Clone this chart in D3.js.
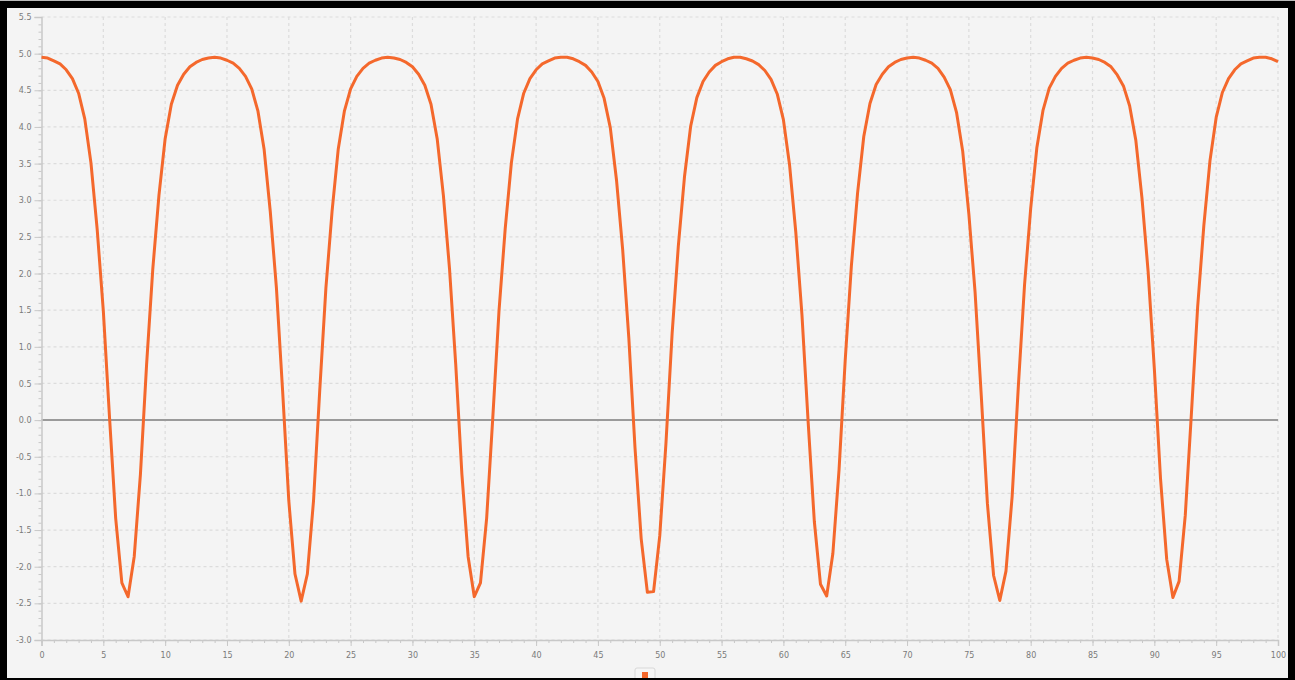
<!DOCTYPE html>
<html>
<head>
<meta charset="utf-8">
<script src="https://cdn.jsdelivr.net/npm/d3@7"></script>
<style>
  html, body { margin: 0; padding: 0; background: #000; }
  .tick text { font-family: "DejaVu Sans", sans-serif; font-size: 8px; fill: #7a7a7a; }
</style>
</head>
<body>
<div id="chart"></div>
<script>
// sample spacing along x (the series is read every half unit)
var xStep = 0.5;

// values, x = 0 .. 100
var seriesValues = [
  4.95, 4.94, 4.90, 4.86, 4.78, 4.66, 4.46, 4.11, 3.51, 2.61,
  1.49, 0.04, -1.34, -2.22, -2.41, -1.86, -0.74, 0.76, 2.06, 3.07,
  3.84, 4.31, 4.57, 4.72, 4.82, 4.88, 4.92, 4.94,
  4.95, 4.94, 4.91, 4.87, 4.80, 4.69, 4.52, 4.22, 3.70, 2.85,
  1.80, 0.40, -1.10, -2.10, -2.47, -2.10, -1.10, 0.40, 1.80, 2.85,
  3.70, 4.22, 4.52, 4.69, 4.80, 4.87, 4.91, 4.94, 4.95,
  4.94, 4.92, 4.88, 4.82, 4.72, 4.57, 4.31, 3.84, 3.07, 2.06,
  0.76, -0.74, -1.86, -2.41, -2.22, -1.34, 0.04, 1.49, 2.61, 3.51,
  4.11, 4.46, 4.66, 4.78, 4.86, 4.90, 4.94, 4.95,
  4.95, 4.93, 4.89, 4.84, 4.75, 4.62, 4.39, 3.99, 3.28, 2.33,
  1.12, -0.38, -1.62, -2.35, -2.34, -1.58, -0.32, 1.18, 2.37, 3.32,
  4.01, 4.40, 4.62, 4.75, 4.84, 4.89, 4.93, 4.95,
  4.95, 4.93, 4.90, 4.85, 4.77, 4.65, 4.45, 4.10, 3.48, 2.57,
  1.44, -0.02, -1.38, -2.24, -2.40, -1.82, -0.68, 0.82, 2.11, 3.10,
  3.87, 4.32, 4.58, 4.72, 4.82, 4.88, 4.92, 4.94,
  4.95, 4.94, 4.91, 4.87, 4.80, 4.68, 4.51, 4.20, 3.67, 2.81,
  1.75, 0.34, -1.14, -2.12, -2.46, -2.06, -1.04, 0.46, 1.84, 2.89,
  3.72, 4.23, 4.53, 4.69, 4.80, 4.87, 4.91, 4.94, 4.95,
  4.94, 4.92, 4.88, 4.82, 4.71, 4.56, 4.29, 3.82, 3.03, 2.02,
  0.70, -0.80, -1.90, -2.42, -2.20, -1.30, 0.10, 1.54, 2.65, 3.54,
  4.13, 4.47, 4.66, 4.78, 4.86, 4.90, 4.94, 4.95, 4.95, 4.93, 4.89
];

var xTicks = d3.range(0, 101, 5);
var xMinorTicks = d3.range(0, 101, 1);
var yTicks = [-3.0, -2.5, -2.0, -1.5, -1.0, -0.5, 0.0, 0.5, 1.0, 1.5, 2.0, 2.5, 3.0, 3.5, 4.0, 4.5, 5.0, 5.5];
var yMinorTicks = d3.range(-30, 56, 1).map(function (d) { return d / 10; });

var width = 1295, height = 680;

var svg = d3.select("#chart")
  .append("svg")
  .attr("width", width)
  .attr("height", height)
  .style("display", "block");

// black frame + light panel
svg.append("rect").attr("width", width).attr("height", height).attr("fill", "#000");
svg.append("rect").attr("x", 0).attr("y", 0).attr("width", width).attr("height", 1).attr("fill", "#bbb");
svg.append("rect")
  .attr("x", 7).attr("y", 8)
  .attr("width", 1281).attr("height", 670)
  .attr("fill", "#f4f4f4");

var x = d3.scaleLinear().domain([0, 100]).range([41.5, 1278]);
var y = d3.scaleLinear().domain([-3, 5.5]).range([640, 17]);

// grid lines
var grid = svg.append("g").attr("class", "grid");
grid.selectAll("line.h")
  .data(yTicks)
  .enter().append("line")
  .attr("class", "h")
  .attr("x1", x(0)).attr("x2", x(100))
  .attr("y1", function (d) { return y(d); })
  .attr("y2", function (d) { return y(d); })
  .attr("stroke", "#dcdcdc")
  .attr("stroke-width", 1.2)
  .attr("stroke-dasharray", "3,3");
grid.selectAll("line.v")
  .data(xTicks.slice(1))
  .enter().append("line")
  .attr("class", "v")
  .attr("x1", function (d) { return x(d); })
  .attr("x2", function (d) { return x(d); })
  .attr("y1", y(5.5)).attr("y2", y(-3))
  .attr("stroke", "#dcdcdc")
  .attr("stroke-width", 1.2)
  .attr("stroke-dasharray", "3,3");

// zero line
svg.append("line")
  .attr("x1", x(0)).attr("x2", x(100))
  .attr("y1", y(0)).attr("y2", y(0))
  .attr("stroke", "#9a9a9a")
  .attr("stroke-width", 2);

// axes
var fmtY = function (d) { return d3.format(".1f")(d).replace("−", "-"); };

var yMinor = svg.append("g")
  .attr("transform", "translate(" + x(0) + ",0)")
  .call(d3.axisLeft(y).tickValues(yMinorTicks).tickSize(3).tickFormat(""));
yMinor.select(".domain").remove();
yMinor.selectAll("line").attr("stroke", "#c8c8c8");

var yAxis = svg.append("g")
  .attr("transform", "translate(" + x(0) + ",0)")
  .call(d3.axisLeft(y).tickValues(yTicks).tickSize(7).tickPadding(3).tickFormat(fmtY));
yAxis.select(".domain").attr("stroke", "#c8c8c8").attr("stroke-width", 1.5);
yAxis.selectAll("line").attr("stroke", "#c8c8c8");

var xMinor = svg.append("g")
  .attr("transform", "translate(0," + y(-3) + ")")
  .call(d3.axisBottom(x).tickValues(xMinorTicks).tickSize(3).tickFormat(""));
xMinor.select(".domain").remove();
xMinor.selectAll("line").attr("stroke", "#c8c8c8");

var xAxis = svg.append("g")
  .attr("transform", "translate(0," + y(-3) + ")")
  .call(d3.axisBottom(x).tickValues(xTicks).tickSize(6).tickPadding(6).tickFormat(d3.format("d")));
xAxis.select(".domain").attr("stroke", "#c8c8c8").attr("stroke-width", 1.5);
xAxis.selectAll("line").attr("stroke", "#c8c8c8");

// series
var line = d3.line()
  .x(function (d, i) { return x(i * xStep); })
  .y(function (d) { return y(d); });

svg.append("path")
  .datum(seriesValues)
  .attr("d", line)
  .attr("fill", "none")
  .attr("stroke", "#f4682c")
  .attr("stroke-width", 3)
  .attr("stroke-linejoin", "round");

// legend (cut off by the frame)
var legend = svg.append("g").attr("transform", "translate(635,668)");
legend.append("rect")
  .attr("width", 20).attr("height", 16).attr("rx", 2)
  .attr("fill", "#f6f6f6")
  .attr("stroke", "#d8d8d8");
legend.append("rect")
  .attr("x", 7).attr("y", 4)
  .attr("width", 6).attr("height", 6)
  .attr("fill", "#f4682c");

svg.append("rect").attr("x", 0).attr("y", 678).attr("width", width).attr("height", 2).attr("fill", "#000");
</script>
</body>
</html>
